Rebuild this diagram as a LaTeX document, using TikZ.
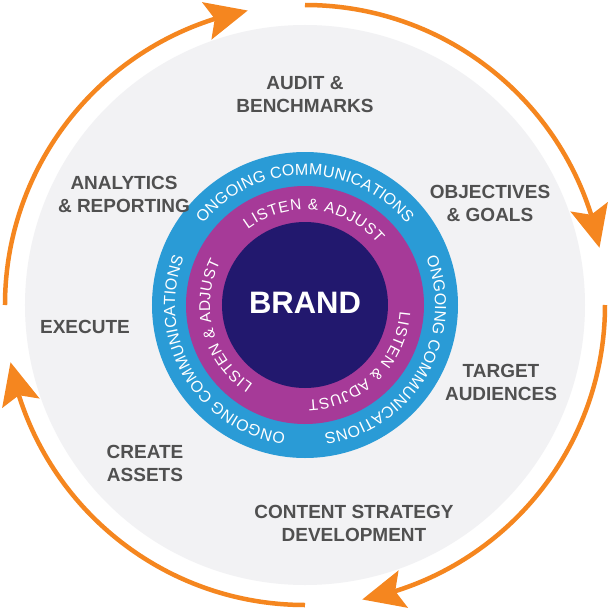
\documentclass[tikz,border=0pt]{standalone}
\usepackage{fontspec}
\setmainfont{Liberation Sans}
\usetikzlibrary{arrows.meta,bending,decorations.text}
\definecolor{cycleorange}{HTML}{F5861F}
\definecolor{ringgray}{HTML}{F2F2F4}
\definecolor{commblue}{HTML}{2A9BD6}
\definecolor{listenpink}{HTML}{A63A98}
\definecolor{brandnavy}{HTML}{22186E}
\definecolor{labelgray}{HTML}{505050}
\newcommand\commfont{\fontsize{16}{16}\selectfont}
\newcommand\listenfont{\fontsize{15.5}{15.5}\selectfont}

\begin{document}
\begin{tikzpicture}[
  stagelabel/.style={text=labelgray, font=\fontsize{19}{23}\selectfont\bfseries, align=center, inner sep=0pt},
  cyclearrow/.style={draw=cycleorange, line width=4.5pt, -{Stealth[length=42pt,width=38pt,inset=8pt,flex]}},
  ringtext/.style={decorate, decoration={text along path, text align={fit to path}, text color=white, text={#1}}}]
  % Background and rings
  \path[use as bounding box, fill=white] (-305pt,-306pt) rectangle (304pt,305pt);
  \coordinate (hub) at (0,0);
  \fill[ringgray] (hub) circle[radius=280pt];
  \fill[commblue] (hub) circle[radius=153pt];
  \fill[listenpink] (hub) circle[radius=119pt];
  \fill[brandnavy] (hub) circle[radius=83pt];
  \node[text=white, font=\fontsize{31}{31}\selectfont\bfseries] (brand) at (0pt,2pt) {BRAND};
  % Ring texts
  \foreach \s/\e in {141.5/38.5, 21.5/-81.5, -98.5/-201.5}
    \path[ringtext={|\commfont|ONGOING COMMUNICATIONS}] ([shift={(\s:130pt)}]hub) arc[start angle=\s, end angle=\e, radius=130pt];
  \foreach \s/\e in {127/40, -4/-88, -123/-207}
    \path[ringtext={|\listenfont|LISTEN {\&} ADJUST}] ([shift={(\s:95pt)}]hub) arc[start angle=\s, end angle=\e, radius=95pt];
  % Cycle arrows
  \foreach \a in {180,90,0,-90}
    \draw[cyclearrow] ([shift={(\a:300pt)}]hub) arc[start angle=\a, delta angle=-79, radius=300pt];
  % Stage labels
  \node[stagelabel] (audit) at (0pt,210pt) {AUDIT \&\\BENCHMARKS};
  \node[stagelabel] (objectives) at (185pt,102pt) {OBJECTIVES\\\& GOALS};
  \node[stagelabel] (target) at (196pt,-77pt) {TARGET\\AUDIENCES};
  \node[stagelabel] (content) at (49pt,-218pt) {CONTENT STRATEGY\\DEVELOPMENT};
  \node[stagelabel] (create) at (-160pt,-158pt) {CREATE\\ASSETS};
  \node[stagelabel] (execute) at (-220pt,-22pt) {EXECUTE};
  \node[stagelabel] (analytics) at (-181pt,111pt) {ANALYTICS\\\& REPORTING};
\end{tikzpicture}
\end{document}
